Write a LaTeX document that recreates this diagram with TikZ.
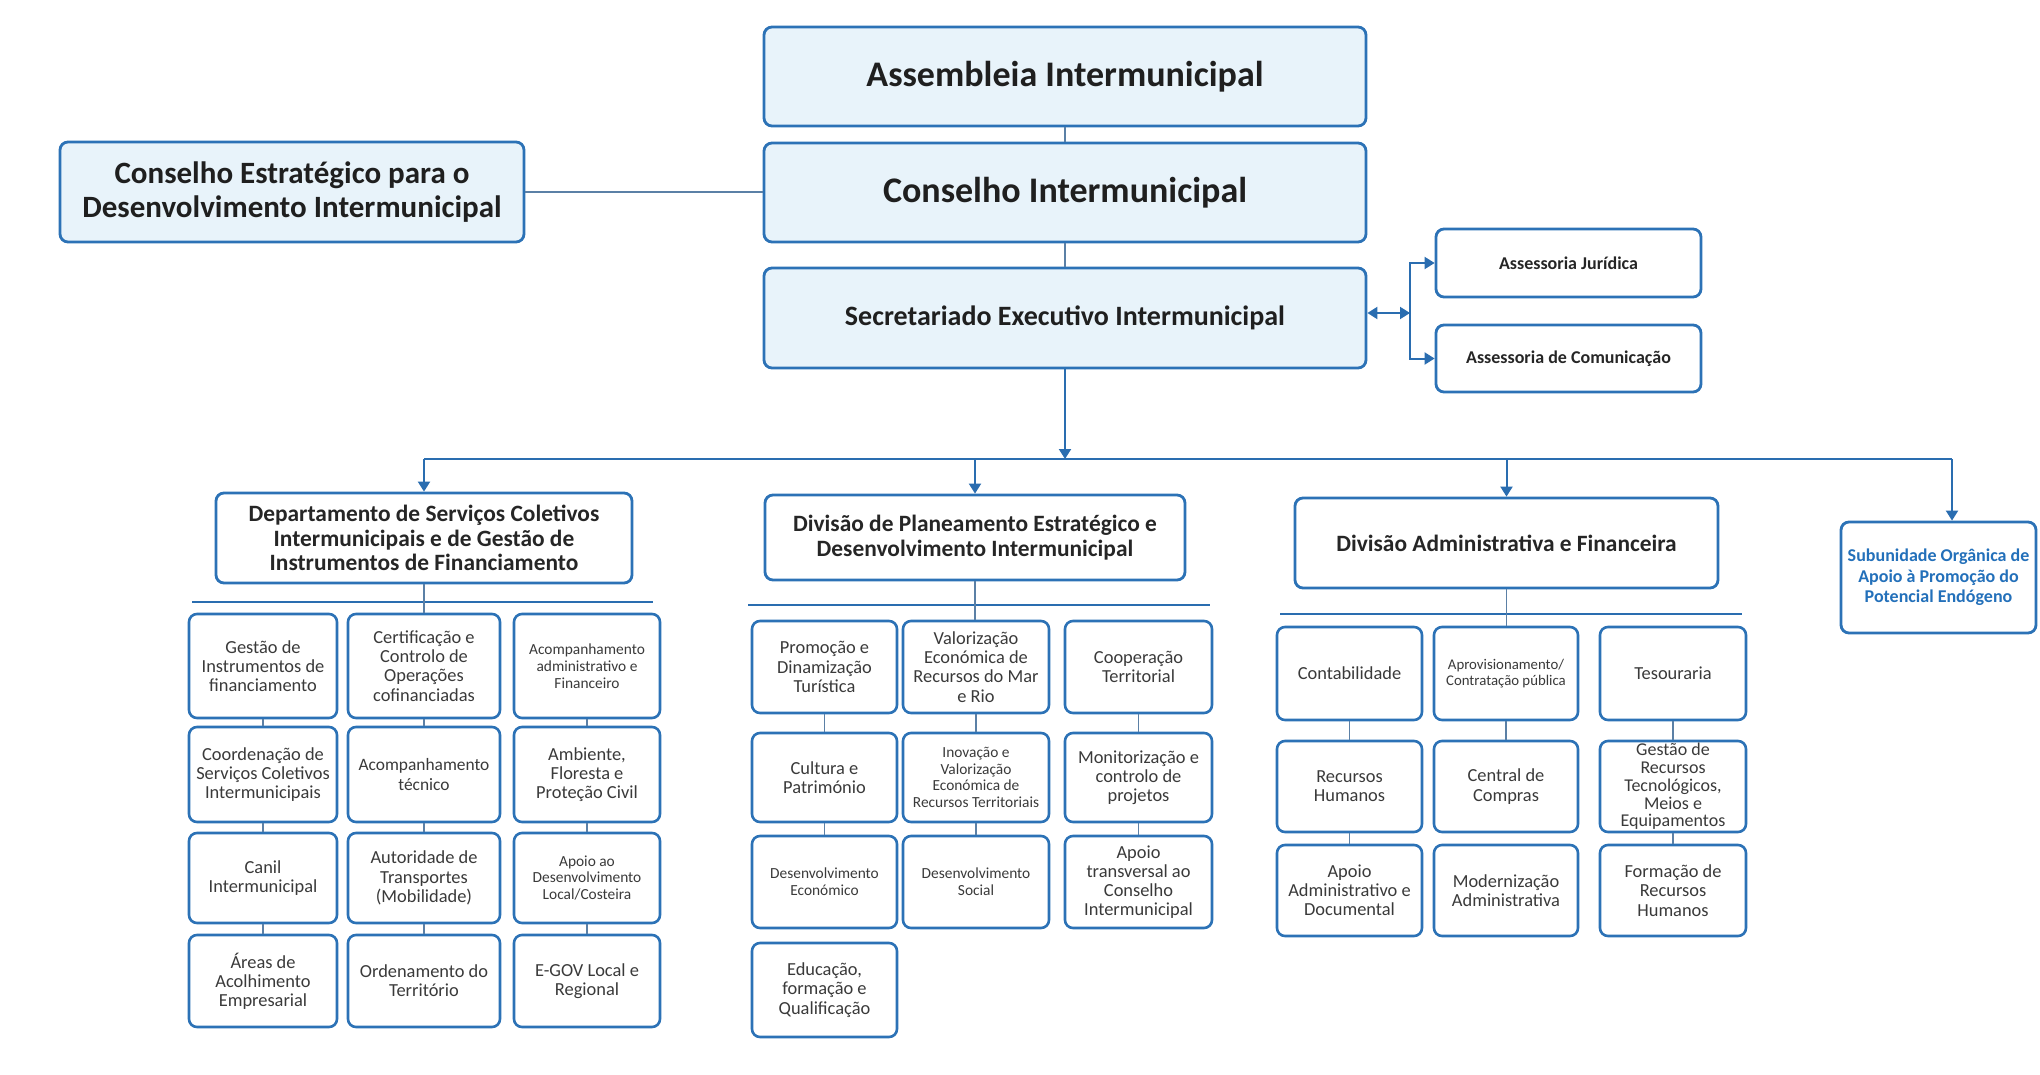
\documentclass[tikz,border=0pt]{standalone}
\usepackage{fontspec}
\setmainfont{Carlito}
\usetikzlibrary{arrows.meta}
\definecolor{bborder}{HTML}{2C72B6}
\definecolor{bfill}{HTML}{E8F3FA}
\definecolor{lconn}{HTML}{5B80A6}
\definecolor{abl}{HTML}{2A6DB0}
\definecolor{ltext}{HTML}{3A3A3A}
\definecolor{sublue}{HTML}{2370BA}
\newcommand\orgbox[7]{\node[#6,minimum width={(#4-#2)*0.5pt},minimum height={(#5-#3)*0.5pt}] (#1) at ({(#2+#4)/2},{(#3+#5)/2}) {#7};}
\tikzset{
 basebox/.style={draw=bborder,line width=1.4pt,rounded corners=4pt,inner sep=0pt,align=center,fill=white},
 topbox/.style={basebox,fill=bfill,text=black!88},
 advbox/.style={basebox,font=\bfseries\fontsize{9}{10}\selectfont,text=black!85},
 deptbox/.style={basebox,font=\bfseries\fontsize{11.7}{12.4}\selectfont,text=black!85},
 subbox/.style={basebox,line width=1.3pt,font=\fontsize{9.2}{9.6}\selectfont,text=ltext},
 smallbox/.style={subbox,font=\fontsize{7.7}{8.4}\selectfont},
 subunbox/.style={basebox,font=\bfseries\fontsize{9}{10.3}\selectfont,text=sublue},
 conn/.style={draw=lconn,line width=0.8pt},
 busline/.style={draw=abl,line width=1pt},
 barline/.style={draw=abl,line width=1.1pt},
 tip/.style={-{Triangle[length=5pt,width=6pt]}},
 dtip/.style={{Triangle[length=5pt,width=6pt]}-{Triangle[length=5pt,width=6pt]}},
}
\begin{document}
\begin{tikzpicture}[x=0.5pt,y=-0.5pt]
\fill[white] (0,0) rectangle (2040,1075);
\useasboundingbox (0,0) rectangle (2040,1075);
% top level
\orgbox{A}{764}{27}{1366}{126}{topbox,font=\bfseries\fontsize{18}{21}\selectfont}{Assembleia Intermunicipal}
\orgbox{CI}{764}{143}{1366}{242}{topbox,font=\bfseries\fontsize{18}{21}\selectfont}{Conselho Intermunicipal}
\orgbox{SE}{764}{268}{1366}{368}{topbox,font=\bfseries\fontsize{14}{16}\selectfont}{Secretariado Executivo Intermunicipal}
\orgbox{CE}{60}{142}{524}{242}{topbox,font=\bfseries\fontsize{15.5}{17}\selectfont}{Conselho Estratégico para o\\Desenvolvimento Intermunicipal}
\orgbox{AJ}{1436}{229}{1701}{297}{advbox}{Assessoria Jurídica}
\orgbox{AC}{1436}{325}{1701}{392}{advbox}{Assessoria de Comunicação}
% departments
\orgbox{D1}{216}{493}{632}{583}{deptbox}{Departamento de Serviços Coletivos\\Intermunicipais e de Gestão de\\Instrumentos de Financiamento}
\orgbox{DP}{765}{495}{1185}{580}{deptbox}{Divisão de Planeamento Estratégico e\\Desenvolvimento Intermunicipal}
\orgbox{DA}{1295}{498}{1718}{588}{deptbox}{Divisão Administrativa e Financeira}
\orgbox{SU}{1841}{522}{2036}{633}{subunbox}{Subunidade Orgânica de\\Apoio à Promoção do\\Potencial Endógeno}
% department 1 units
\orgbox{Da1}{189}{614}{337}{718}{subbox}{Gestão de\\Instrumentos de\\financiamento}
\orgbox{Da2}{189}{727}{337}{822}{subbox}{Coordenação de\\Serviços Coletivos\\Intermunicipais}
\orgbox{Da3}{189}{833}{337}{923}{subbox}{Canil\\Intermunicipal}
\orgbox{Da4}{189}{935}{337}{1027}{subbox}{Áreas de\\Acolhimento\\Empresarial}
\orgbox{Db1}{348}{614}{500}{718}{subbox}{Certificação e\\Controlo de\\Operações\\cofinanciadas}
\orgbox{Db2}{348}{727}{500}{822}{subbox,font=\fontsize{8.7}{9.6}\selectfont}{Acompanhamento\\técnico}
\orgbox{Db3}{348}{833}{500}{923}{subbox}{Autoridade de\\Transportes\\(Mobilidade)}
\orgbox{Db4}{348}{935}{500}{1027}{subbox}{Ordenamento do\\Território}
\orgbox{Dc1}{514}{614}{660}{718}{smallbox}{Acompanhamento\\administrativo e\\Financeiro}
\orgbox{Dc2}{514}{727}{660}{822}{subbox}{Ambiente,\\Floresta e\\Proteção Civil}
\orgbox{Dc3}{514}{833}{660}{923}{smallbox}{Apoio ao\\Desenvolvimento\\Local/Costeira}
\orgbox{Dc4}{514}{935}{660}{1027}{subbox}{E-GOV Local e\\Regional}
% planning division units
\orgbox{Pa1}{752}{621}{897}{713}{subbox}{Promoção e\\Dinamização\\Turística}
\orgbox{Pa2}{752}{733}{897}{822}{subbox}{Cultura e\\Património}
\orgbox{Pa3}{752}{836}{897}{928}{smallbox}{Desenvolvimento\\Económico}
\orgbox{Pa4}{752}{943}{897}{1037}{subbox}{Educação,\\formação e\\Qualificação}
\orgbox{Pb1}{903}{621}{1049}{713}{subbox}{Valorização\\Económica de\\Recursos do Mar\\e Rio}
\orgbox{Pb2}{903}{733}{1049}{822}{smallbox}{Inovação e\\Valorização\\Económica de\\Recursos Territoriais}
\orgbox{Pb3}{903}{836}{1049}{928}{smallbox}{Desenvolvimento\\Social}
\orgbox{Pc1}{1065}{621}{1212}{713}{subbox}{Cooperação\\Territorial}
\orgbox{Pc2}{1065}{733}{1212}{822}{subbox}{Monitorização e\\controlo de\\projetos}
\orgbox{Pc3}{1065}{836}{1212}{928}{subbox}{Apoio\\transversal ao\\Conselho\\Intermunicipal}
% administrative division units
\orgbox{Aa1}{1277}{627}{1422}{720}{subbox}{Contabilidade}
\orgbox{Aa2}{1277}{741}{1422}{832}{subbox}{Recursos\\Humanos}
\orgbox{Aa3}{1277}{845}{1422}{936}{subbox}{Apoio\\Administrativo e\\Documental}
\orgbox{Ab1}{1434}{627}{1578}{720}{smallbox,font=\fontsize{7.4}{8.3}\selectfont}{Aprovisionamento/\\Contratação pública}
\orgbox{Ab2}{1434}{741}{1578}{832}{subbox}{Central de\\Compras}
\orgbox{Ab3}{1434}{845}{1578}{936}{subbox}{Modernização\\Administrativa}
\orgbox{Ac1}{1600}{627}{1746}{720}{subbox}{Tesouraria}
\orgbox{Ac2}{1600}{741}{1746}{832}{subbox,font=\fontsize{9}{8.9}\selectfont}{Gestão de\\Recursos\\Tecnológicos,\\Meios e\\Equipamentos}
\orgbox{Ac3}{1600}{845}{1746}{936}{subbox}{Formação de\\Recursos\\Humanos}
% top connectors
\draw[conn] (A) -- (CI);
\draw[conn] (CI) -- (SE);
\draw[conn] (CE.east) -- (CE.east -| CI.west);
% bus
\coordinate (bus) at (1065,459);
\coordinate (d1Drop) at (424,459);
\coordinate (suDrop) at (1952,459);
\draw[busline,tip] (SE) -- (bus);
\draw[busline] (d1Drop) -- (suDrop);
\draw[busline,tip] (d1Drop) -- (D1.north);
\draw[busline,tip] (bus -| DP.north) -- (DP.north);
\draw[busline,tip] (bus -| DA.north) -- (DA.north);
\draw[busline,tip] (suDrop) -- (suDrop |- SU.north);
% advisors
\coordinate (jb) at (1410,313);
\draw[busline,dtip] (SE.east |- jb) -- (jb);
\draw[busline,tip] (jb) |- (AJ.west);
\draw[busline,tip] (jb) |- (AC.west);
% bars under departments
\coordinate (b1L) at (192,602); \coordinate (b1R) at (653,602);
\coordinate (b2L) at (748,605); \coordinate (b2R) at (1210,605);
\coordinate (b3L) at (1280,614); \coordinate (b3R) at (1742,614);
\draw[barline] (b1L) -- (b1R);
\draw[barline] (b2L) -- (b2R);
\draw[barline] (b3L) -- (b3R);
\draw[conn] (D1.south) -- (D1.south |- Db1.north);
\draw[conn] (DP.south) -- (DP.south |- Pb1.north);
\draw[conn] (DA.south) -- (DA.south |- Ab1.north);
% column connectors
\foreach \a/\b in {Da1/Da2,Da2/Da3,Da3/Da4,Db1/Db2,Db2/Db3,Db3/Db4,Dc1/Dc2,Dc2/Dc3,Dc3/Dc4,
  Pa1/Pa2,Pa2/Pa3,Pb1/Pb2,Pb2/Pb3,Pc1/Pc2,Pc2/Pc3,
  Aa1/Aa2,Aa2/Aa3,Ab1/Ab2,Ac1/Ac2,Ac2/Ac3}
  \draw[conn] (\a) -- (\b);
\end{tikzpicture}
\end{document}
